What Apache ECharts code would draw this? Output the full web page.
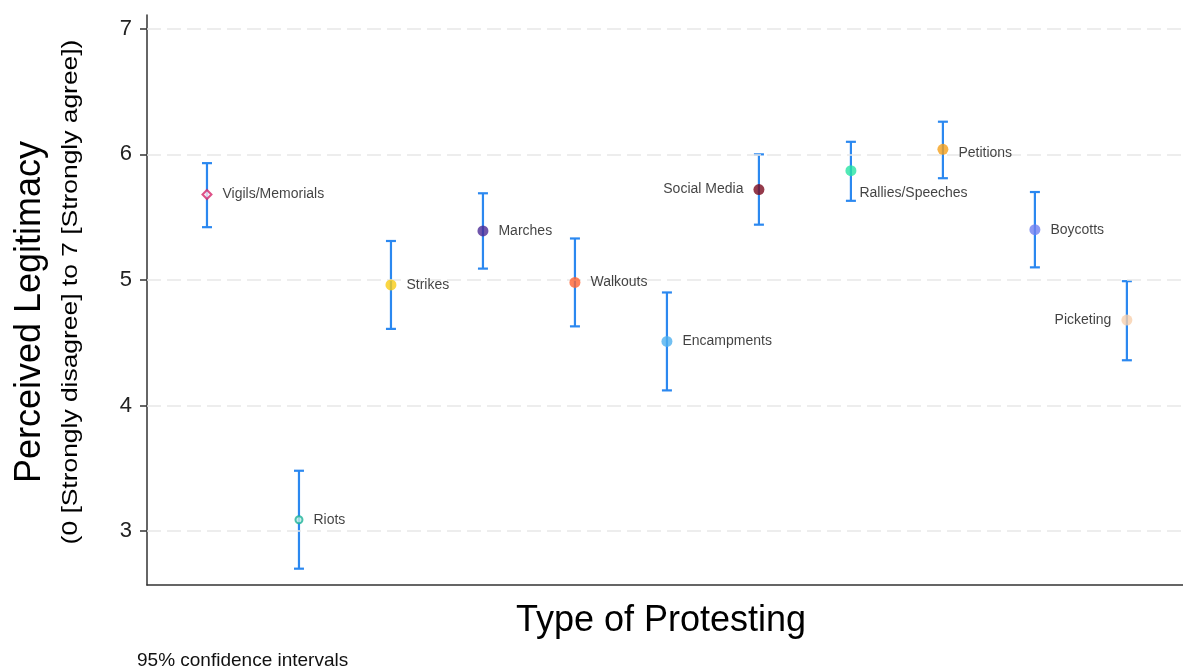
<!DOCTYPE html>
<html>
<head>
<meta charset="utf-8">
<script src="https://cdn.jsdelivr.net/npm/echarts@6/dist/echarts.min.js"></script>
<style>
  html, body { margin: 0; padding: 0; background: #fff; }
  #chart { width: 1183px; height: 670px; }
</style>
</head>
<body>
<div id="chart"></div>
<script>
// protest types, left to right
var types = ["Vigils/Memorials", "Riots", "Strikes", "Marches", "Walkouts", "Encampments",
  "Social Media", "Rallies/Speeches", "Petitions", "Boycotts", "Picketing"];
var means = [5.68, 3.09, 4.96, 5.39, 4.98, 4.51, 5.72, 5.87, 6.04, 5.40, 4.68];
var lower = [5.42, 2.70, 4.61, 5.09, 4.63, 4.12, 5.44, 5.63, 5.81, 5.10, 4.36];
var upper = [5.93, 3.48, 5.31, 5.69, 5.33, 4.90, 6.00, 6.10, 6.26, 5.70, 4.99];
var dotColors = ["#d6276a", "#1fb39a", "#f9cc14", "#4b2b96", "#ff6433", "#4fb0ef",
  "#7a0a1e", "#27e3a4", "#f5a01a", "#6f7ff0", "#f7d0ac"];
var labelPos = ["right", "right", "right", "right", "right", "right",
  "left", "below", "right", "right", "left"];
var yTicks = [3, 4, 5, 6, 7];

var FONT = "'Liberation Sans', Arial, sans-serif";

var chart = echarts.init(document.getElementById('chart'));

var barData = [];
var dotData = [];
for (var i = 0; i < types.length; i++) {
  barData.push([i + 1, lower[i], upper[i]]);
  var d = {
    value: [i + 1, means[i]],
    name: types[i],
    itemStyle: { color: dotColors[i] },
    label: { position: labelPos[i] }
  };
  if (i == 0) {
    d.symbol = 'diamond';
    d.symbolSize = 9;
    d.itemStyle = { color: '#fde7ef', borderColor: dotColors[i], borderWidth: 2 };
  } else if (i == 1) {
    d.symbolSize = 7;
    d.itemStyle = { color: '#bfeee4', borderColor: dotColors[i], borderWidth: 2 };
  }
  if (labelPos[i] == 'below') {
    // label sits under-right of the dot
    d.label = { position: [14, 28], align: 'left', verticalAlign: 'middle' };
  }
  if (types[i] == 'Petitions') {
    d.label = { position: [21, 9], align: 'left', verticalAlign: 'middle' };
  }
  dotData.push(d);
}

var option = {
  animation: false,
  grid: { left: 147, right: 0, top: 15, bottom: 85 },
  xAxis: {
    type: 'value',
    min: 0.348,
    max: 11.61,
    axisLine: { show: true, onZero: false, lineStyle: { color: '#333', width: 1.5 } },
    axisTick: { show: false },
    axisLabel: { show: false },
    splitLine: { show: false }
  },
  yAxis: {
    type: 'value',
    min: 2.57,
    max: 7.11,
    axisLine: { show: true, lineStyle: { color: '#333', width: 1.5 } },
    axisTick: { show: true, length: 7, customValues: yTicks, lineStyle: { color: '#333', width: 1.5 } },
    axisLabel: { customValues: yTicks, fontSize: 22, color: '#222', fontFamily: FONT, margin: 15 },
    splitLine: { show: false }
  },
  graphic: [
    {
      type: 'text', x: 30, y: 312, rotation: Math.PI / 2,
      style: { text: 'Perceived Legitimacy', fontSize: 36, fontFamily: FONT, fill: '#000',
        align: 'center', verticalAlign: 'middle' }
    },
    {
      type: 'text', x: 71, y: 292, rotation: Math.PI / 2, scaleX: 1.2,
      style: { text: '(0 [Strongly disagree] to 7 [Strongly agree])', fontSize: 22, fontFamily: FONT,
        fill: '#000', align: 'center', verticalAlign: 'middle' }
    },
    {
      type: 'text', x: 661, y: 621,
      style: { text: 'Type of Protesting', fontSize: 36, fontFamily: FONT, fill: '#000',
        align: 'center', verticalAlign: 'middle' }
    },
    {
      type: 'text', x: 137, y: 661,
      style: { text: '95% confidence intervals', fontSize: 19, fontFamily: FONT, fill: '#111',
        align: 'left', verticalAlign: 'middle' }
    }
  ],
  series: [
    {
      type: 'line',
      data: [],
      silent: true,
      markLine: {
        symbol: 'none',
        silent: true,
        label: { show: false },
        lineStyle: { color: '#e8e8e8', type: [14, 6], width: 1.5 },
        data: yTicks.map(function (t) { return { yAxis: t }; })
      }
    },
    {
      type: 'custom',
      data: barData,
      renderItem: function (params, api) {
        var x = api.value(0);
        var lo = api.coord([x, api.value(1)]);
        var hi = api.coord([x, api.value(2)]);
        var cap = 5;
        var st = { stroke: '#2b88f0', lineWidth: 2.2 };
        return {
          type: 'group',
          children: [
            { type: 'line', shape: { x1: lo[0], y1: lo[1], x2: hi[0], y2: hi[1] }, style: st },
            { type: 'line', shape: { x1: lo[0] - cap, y1: lo[1], x2: lo[0] + cap, y2: lo[1] }, style: st },
            { type: 'line', shape: { x1: hi[0] - cap, y1: hi[1], x2: hi[0] + cap, y2: hi[1] }, style: st }
          ]
        };
      },
      z: 3
    },
    {
      type: 'scatter',
      data: dotData,
      symbolSize: 11,
      z: 5,
      label: {
        show: true,
        formatter: '{b}',
        fontSize: 14,
        fontFamily: FONT,
        color: '#111',
        distance: 10
      }
    }
  ]
};

chart.setOption(option);
</script>
</body>
</html>
